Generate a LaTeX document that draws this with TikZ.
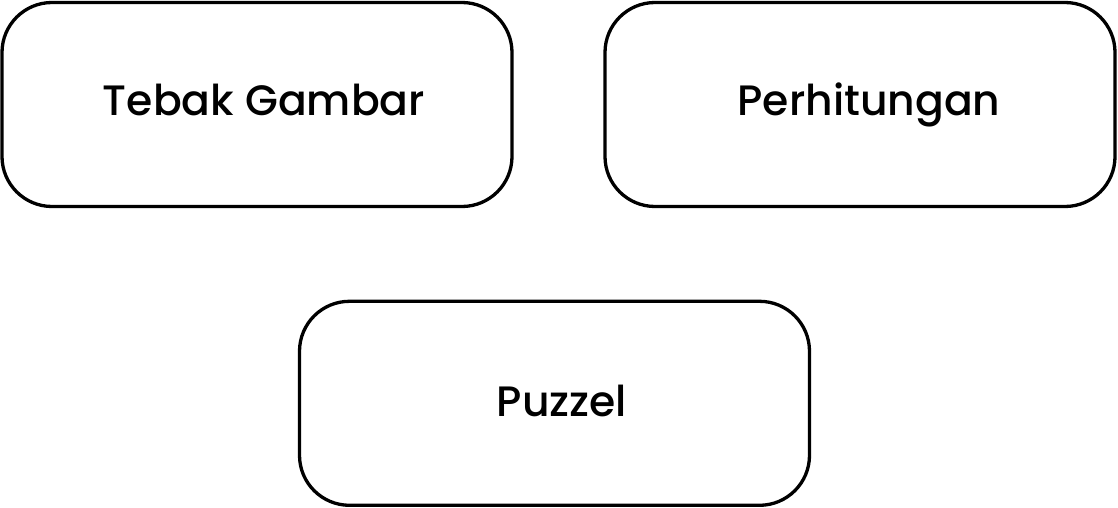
\documentclass[tikz,border=0pt]{standalone}
\usepackage{fontspec}
\setmainfont{Poppins}[UprightFont={* Medium}]
\tikzset{
  gamebox/.style={draw, line width=3.3pt, rounded corners=50pt,
    minimum width=510pt, minimum height=204pt, inner sep=0pt},
  gamelabel/.style={anchor=base, font=\fontsize{42.5}{50}\selectfont}
}
\begin{document}
\begin{tikzpicture}[x=1pt,y=-1pt,line cap=round,line join=round]
  \useasboundingbox (0,0) rectangle (1118,508);
  % boxes
  \node[gamebox] (tebak) at (257,104.5) {};
  \node[gamebox] (hitung) at (860,104.5) {};
  \node[gamebox] (puzzel) at (554.5,403.3) {};
  % labels
  \node[gamelabel] (tebaktext) at (264,116) {Tebak Gambar};
  \node[gamelabel] (hitungtext) at (869,116) {Perhitungan};
  \node[gamelabel] (puzzeltext) at (562,416) {Puzzel};
\end{tikzpicture}
\end{document}
